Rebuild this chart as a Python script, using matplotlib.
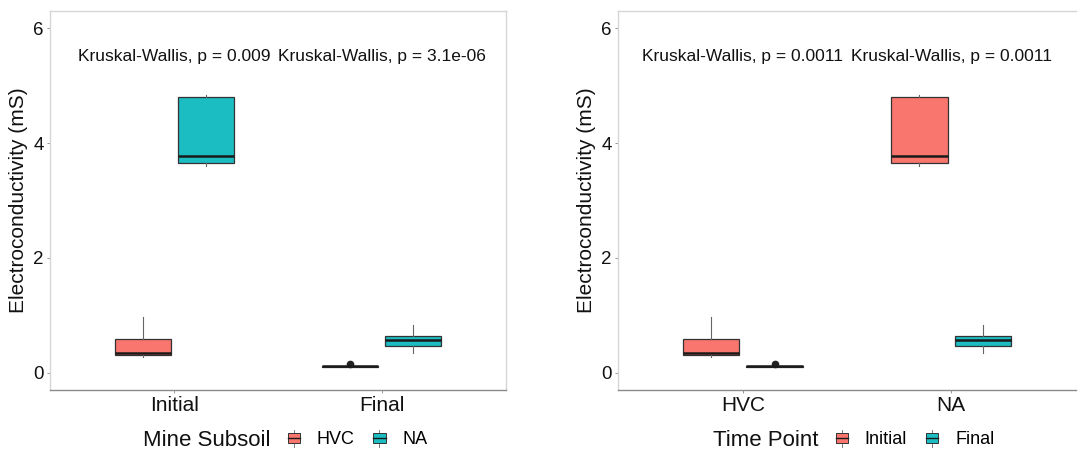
import matplotlib
matplotlib.use("Agg")
import matplotlib.pyplot as plt
from matplotlib.legend_handler import HandlerBase
from matplotlib.patches import Rectangle
from matplotlib.lines import Line2D

plt.rcParams['font.family'] = ['Liberation Sans', 'DejaVu Sans']

# ---- data ----
time_points = ['Initial', 'Final']
subsoils = ['HVC', 'NA']
# five-number summaries [whislo, q1, med, q3, whishi]
stats_initial_hvc = [0.28, 0.31, 0.35, 0.585, 0.97]
stats_initial_na = [3.60, 3.65, 3.78, 4.81, 4.84]
stats_final_hvc = [0.10, 0.10, 0.11, 0.12, 0.12]
stats_final_na = [0.34, 0.46, 0.57, 0.64, 0.83]
fliers_initial_hvc = []
fliers_initial_na = []
fliers_final_hvc = [0.16]
fliers_final_na = []
pvals_left = ['0.009', '3.1e-06']
pvals_right = ['0.0011', '0.0011']

summary = {
    ('Initial', 'HVC'): (stats_initial_hvc, fliers_initial_hvc),
    ('Initial', 'NA'): (stats_initial_na, fliers_initial_na),
    ('Final', 'HVC'): (stats_final_hvc, fliers_final_hvc),
    ('Final', 'NA'): (stats_final_na, fliers_final_na),
}

RED = '#F8766D'
TEAL = '#1BBCC2'
EDGE = '#333333'
WHISK = '#666666'

fig = plt.figure(figsize=(10.78, 4.5), dpi=100)
ax1 = fig.add_axes([50/1078, 60/450, 456/1078, 379/450])
ax2 = fig.add_axes([618/1078, 60/450, 458/1078, 379/450])


def to_bxp(s, fl):
    return dict(whislo=s[0], q1=s[1], med=s[2], q3=s[3], whishi=s[4], fliers=fl)


def draw_panel(ax, cats, fills, key_fn, pvals):
    offs = [-0.152, 0.152]
    for i, c in enumerate(cats):
        for j, f in enumerate(fills):
            s, fl = summary[key_fn(c, f)]
            color = [RED, TEAL][j]
            ax.bxp([to_bxp(s, fl)], positions=[i + 1 + offs[j]], widths=0.27,
                   patch_artist=True, showcaps=False,
                   boxprops=dict(facecolor=color, edgecolor=EDGE, linewidth=0.9),
                   medianprops=dict(color='#1a1a1a', linewidth=1.8),
                   whiskerprops=dict(color=WHISK, linewidth=0.8),
                   flierprops=dict(marker='o', markerfacecolor='#222222',
                                   markeredgecolor='#222222', markersize=4.5))
        ax.text(i + 1, 5.5, 'Kruskal-Wallis, p = ' + pvals[i], ha='center',
                va='center', fontsize=12.5, color='#111111')
    ax.set_xlim(0.4, 2.6)
    ax.set_ylim(-0.3, 6.3)
    ax.set_xticks([1, 2])
    ax.set_xticklabels(cats, fontsize=15, color='#111111')
    ax.set_yticks([0, 2, 4, 6])
    ax.set_yticklabels(['0', '2', '4', '6'], fontsize=13.5, color='#111111')
    ax.tick_params(axis='both', length=2.5, width=0.6, color='#888888', pad=2)
    ax.tick_params(axis='x', pad=1.5)
    ax.set_ylabel('Electroconductivity (mS)', fontsize=15, color='#111111', labelpad=4)
    for side in ['top', 'right', 'left']:
        ax.spines[side].set_color('#d6d6d6')
        ax.spines[side].set_linewidth(1.0)
    ax.spines['bottom'].set_color('#8a8a8a')
    ax.spines['bottom'].set_linewidth(1.0)


draw_panel(ax1, time_points, subsoils, lambda c, f: (c, f), pvals_left)
draw_panel(ax2, subsoils, time_points, lambda c, f: (f, c), pvals_right)
ax2.spines['right'].set_visible(False)


class BoxKey(HandlerBase):
    def __init__(self, color):
        super().__init__()
        self.color = color

    def create_artists(self, legend, orig_handle, xdescent, ydescent, width,
                       height, fontsize, trans):
        cx = width / 2 - xdescent
        bw = width * 0.9
        bh = height * 0.55
        y0 = -ydescent + (height - bh) / 2
        rect = Rectangle((cx - bw / 2, y0), bw, bh, facecolor=self.color,
                         edgecolor=EDGE, linewidth=0.7, transform=trans)
        med = Line2D([cx - bw / 2, cx + bw / 2], [y0 + bh / 2] * 2,
                     color='#1a1a1a', linewidth=1.0, transform=trans)
        wt = Line2D([cx, cx], [y0 + bh, -ydescent + height * 1.0],
                    color=WHISK, linewidth=0.6, transform=trans)
        wb = Line2D([cx, cx], [-ydescent, y0], color=WHISK, linewidth=0.6,
                    transform=trans)
        return [wt, wb, rect, med]


def add_legend(title, labels, title_x, keys_x):
    fig.text(title_x / 1078, 10 / 450, title, ha='left', va='center',
             fontsize=16, color='#111111')
    h1 = Rectangle((0, 0), 1, 1)
    h2 = Rectangle((0, 0), 1, 1)
    fig.legend([h1, h2], labels, loc='center left',
               bbox_to_anchor=(keys_x / 1078, 11 / 450), ncol=2, frameon=False,
               fontsize=13, handlelength=0.75, handleheight=1.1,
               handletextpad=0.9, columnspacing=1.0, borderpad=0, borderaxespad=0,
               handler_map={h1: BoxKey(RED), h2: BoxKey(TEAL)})


add_legend('Mine Subsoil', subsoils, 143, 287)
add_legend('Time Point', time_points, 713, 835)

fig.savefig('out.png', dpi=100, facecolor='white')
